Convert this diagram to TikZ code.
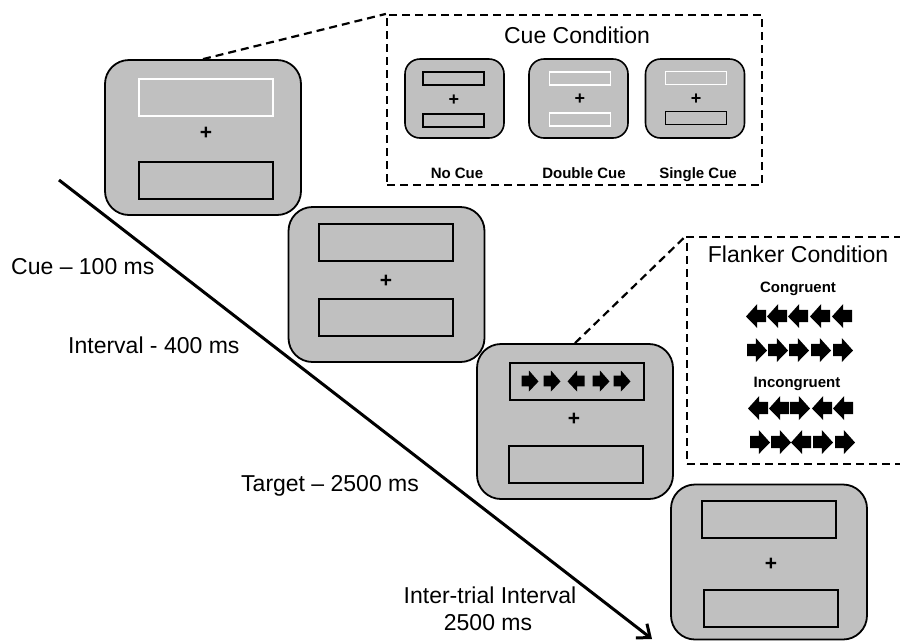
\documentclass[tikz,border=0pt]{standalone}
\usepackage{fontspec}
\setmainfont{Liberation Sans}
\usetikzlibrary{arrows.meta}
\definecolor{scr}{RGB}{192,192,192}
\tikzset{
  screen/.style={draw, line width=1.8pt, fill=scr, rounded corners=24pt, minimum width=196pt, minimum height=155pt, inner sep=0pt},
  mini/.style={draw, line width=1.6pt, fill=scr, rounded corners=15pt, minimum width=99pt, minimum height=79pt, inner sep=0pt},
  slot/.style={draw, line width=2pt, minimum width=134pt, minimum height=37pt, inner sep=0pt},
  wslot/.style={slot, draw=white},
  mslot/.style={draw, line width=1.6pt, minimum width=61pt, minimum height=13pt, inner sep=0pt},
  wmslot/.style={mslot, draw=white},
  fix/.style={font=\fontsize{21}{21}\selectfont\bfseries, inner sep=0pt},
  mfix/.style={font=\fontsize{18}{18}\selectfont\bfseries, inner sep=0pt},
  big/.style={font=\fontsize{23}{28}\selectfont, inner sep=0pt, anchor=base},
  small/.style={font=\fontsize{15}{18}\selectfont\bfseries, inner sep=0pt, anchor=base},
  dashbox/.style={draw, line width=2.2pt, dash pattern=on 8pt off 5pt},
  dashlink/.style={line width=2.2pt, dash pattern=on 8pt off 5pt},
}
% block arrows: x, y, width, height
\newcommand{\rarr}[4]{\fill[shift={(#1,#2)}, xscale=#3, yscale=#4] (-0.5,-0.26) -- (-0.06,-0.26) -- (-0.06,-0.5) -- (0.5,0.02) -- (-0.06,0.5) -- (-0.06,0.26) -- (-0.5,0.26) -- cycle;}
\newcommand{\larr}[4]{\fill[shift={(#1,#2)}, xscale=#3, yscale=#4] (0.5,-0.26) -- (0.06,-0.26) -- (0.06,-0.5) -- (-0.5,0.02) -- (0.06,0.5) -- (0.06,0.26) -- (0.5,0.26) -- cycle;}
\begin{document}
\begin{tikzpicture}[x=1pt,y=-1pt]
\useasboundingbox (0,0) rectangle (900,641);

% timeline
\coordinate (t0) at (59,180);
\coordinate (t1) at (652,639);
\draw[line width=3pt, -{Straight Barb[length=11pt,width=18pt,line width=3pt]}] (t0) -- (t1);

% cue condition box
\node[dashbox, minimum width=375pt, minimum height=170pt, inner sep=0pt] (cuebox) at (574.5,100) {};
\node[big] (cuetitle) at (577,43) {Cue Condition};
\node[mini] (m1) at (454.5,98.5) {};
\node[mslot] (m1a) at (453.5,78.5) {};
\node[mslot] (m1b) at (453.5,120.5) {};
\node[mfix] (m1p) at (454,100) {+};
\node[mini] (m2) at (578.5,98.5) {};
\node[wmslot] (m2a) at (580,78.5) {};
\node[wmslot] (m2b) at (580,119.5) {};
\node[mfix] (m2p) at (580,99) {+};
\node[mini] (m3) at (695,98.5) {};
\node[wmslot] (m3a) at (696,78) {};
\node[mslot] (m3b) at (696,118) {};
\node[mfix] (m3p) at (696,99) {+};
\node[small] (l1) at (457,178) {No Cue};
\node[small] (l2) at (584,178) {Double Cue};
\node[small] (l3) at (698,178) {Single Cue};

% flanker condition box
\node[dashbox, minimum width=228pt, minimum height=227pt, inner sep=0pt] (flbox) at (801,350.5) {};
\node[big] (fltitle) at (798,262) {Flanker Condition};
\node[small] (cong) at (798,292) {Congruent};
\node[small] (incong) at (797,387) {Incongruent};
\larr{756}{316}{20}{24}\larr{777}{316}{20}{24}\larr{798}{316}{20}{24}\larr{820}{316}{20}{24}\larr{842}{316}{20}{24}
\rarr{757}{350}{20}{24}\rarr{778}{350}{20}{24}\rarr{799}{350}{20}{24}\rarr{821}{350}{20}{24}\rarr{843}{350}{20}{24}
\larr{758}{408}{20}{24}\larr{779}{408}{20}{24}\rarr{800}{408}{20}{24}\larr{822}{408}{20}{24}\larr{843}{408}{20}{24}
\rarr{760}{442}{20}{24}\rarr{781}{442}{20}{24}\larr{801}{442}{20}{24}\rarr{823}{442}{20}{24}\rarr{845}{442}{20}{24}

% screens
\node[screen] (s1) at (203,137.5) {};
\node[wslot] (s1a) at (206,97.5) {};
\node[slot] (s1b) at (206,180) {};
\node[fix] (s1p) at (206,133) {+};

\node[screen] (s2) at (386.5,284.5) {};
\node[slot] (s2a) at (386,242.5) {};
\node[slot] (s2b) at (386,317.5) {};
\node[fix] (s2p) at (386,281) {+};

\node[screen] (s3) at (575,421.5) {};
\node[slot] (s3a) at (576.5,381.5) {};
\node[slot] (s3b) at (575.5,464) {};
\node[fix] (s3p) at (574,419) {+};
\rarr{530}{381}{17}{21}\rarr{552}{381}{17}{21}\larr{576}{381}{17}{21}\rarr{601}{381}{17}{21}\rarr{622}{381}{17}{21}

\node[screen] (s4) at (769,562) {};
\node[slot] (s4a) at (769,519.5) {};
\node[slot] (s4b) at (771,608) {};
\node[fix] (s4p) at (771,564) {+};

% zoom links
\draw[dashlink] (s1.north) -- (cuebox.north west);
\draw[dashlink] (s3.north) -- (flbox.north west);

% timing labels
\node[big, anchor=base west] (c1) at (11,274) {Cue – 100 ms};
\node[big, anchor=base west] (c2) at (68,353) {Interval - 400 ms};
\node[big, anchor=base west] (c3) at (241,491) {Target – 2500 ms};
\node[big] (c4a) at (490,603) {Inter-trial Interval};
\node[big] (c4b) at (488,630) {2500 ms};
\end{tikzpicture}
\end{document}
